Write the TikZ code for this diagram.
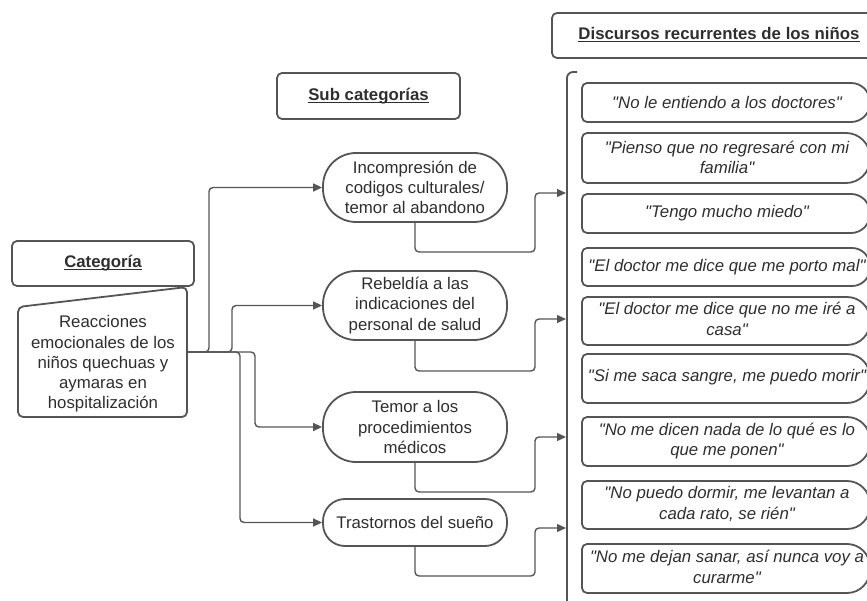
\documentclass[tikz,border=0pt]{standalone}
\usepackage{fontspec}
\setmainfont{Liberation Sans}[Ligatures=TeXOff]
\usetikzlibrary{arrows.meta}
\definecolor{ln}{HTML}{555555}
\definecolor{tx}{HTML}{2e2e2e}
\newcommand\myul[1]{\setbox0\hbox{#1}\rlap{\rule[-2.6pt]{\wd0}{1.2pt}}\box0}
\newcommand\quotebox[3]{\draw[qline,rounded corners=5pt] (700,#1) -- (582,#1) -- (582,#2) -- (700,#2) [rounded corners=#3] -- (870,#2) -- (870,#1) -- cycle;}
\begin{document}
\begin{tikzpicture}[x=1pt,y=-1pt,
  txt/.style={text=tx,font=\fontsize{16.8}{20.3}\selectfont,align=center,inner sep=0pt},
  qtxt/.style={txt,font=\fontsize{16.8}{20.3}\selectfont\itshape},
  hdr/.style={draw=ln,line width=1.8pt,rounded corners=5pt,text=tx,font=\fontsize{16.8}{20}\selectfont\bfseries,inner sep=0pt},
  subcat/.style={draw=ln,line width=1.8pt,txt,minimum width=184pt},
  conn/.style={draw=ln,line width=1.4pt,rounded corners=4pt,-{Triangle[length=9pt,width=8pt]}},
  qline/.style={draw=ln,line width=1.8pt}]
\useasboundingbox (0,0) rectangle (867,601);
\clip (0,0) rectangle (867,601);
% category
\node[hdr,minimum width=182pt,minimum height=45pt] (cathdr) at (103,263.5) {\myul{Categoría}};
\draw[qline,rounded corners=5pt] (187,287) -- (18,307) -- (18,417) -- (187,417) -- cycle;
\node[txt] (body) at (103,364) {Reacciones\\emocionales de los\\niños quechuas y\\aymaras en\\hospitalización};
\coordinate (bodyE) at (187,352);
% sub categories
\node[hdr,minimum width=183pt,minimum height=46pt] (subhdr) at (368.5,96) {\myul{Sub categorías}};
\node[subcat,minimum height=69pt,rounded corners=33pt] (inc) at (415,187.5) {Incompresión de\\codigos culturales/\\temor al abandono};
\node[subcat,minimum height=69pt,rounded corners=33pt] (reb) at (415,305.5) {Rebeldía a las\\indicaciones del\\personal de salud};
\node[subcat,minimum height=70pt,rounded corners=33pt] (tem) at (415,427) {Temor a los\\procedimientos\\médicos};
\node[subcat,minimum height=47pt,rounded corners=22pt] (tra) at (415,522.5) {Trastornos del sueño};
\draw[conn] (bodyE) -- (209,352) -- (209,187.5) -- (inc.west);
\draw[conn] (bodyE) -- (232,352) -- (232,305.5) -- (reb.west);
\draw[conn] (bodyE) -- (240,352) -- (240,522.5) -- (tra.west);
\draw[conn] (bodyE) -- (255,352) -- (255,427) -- (tem.west);
% bracket
\coordinate (b1) at (566,193);
\coordinate (b2) at (566,319);
\coordinate (b3) at (566,437);
\coordinate (b4) at (566,528);
\draw[qline,rounded corners=6pt] (577,72) -- (567,72) -- (567,610);
\draw[conn] (inc.south) -- (415,252) -- (535,252) -- (535,193) -- (b1);
\draw[conn] (reb.south) -- (415,371) -- (535,371) -- (535,319) -- (b2);
\draw[conn] (tem.south) -- (415,492) -- (535,492) -- (535,437) -- (b3);
\draw[conn] (tra.south) -- (415,576) -- (535,576) -- (535,528) -- (b4);
% discursos header
\draw[qline,rounded corners=5pt] (900,13) -- (552,13) -- (552,58) -- (900,58);
\node[text=tx,font=\fontsize{16.8}{20}\selectfont\bfseries,inner sep=0pt] (dischdr) at (719,35) {\myul{Discursos recurrentes de los niños}};
% quotes
\quotebox{83}{122}{19pt}
\node[qtxt] (q1) at (727,102.5) {"No le entiendo a los doctores"};
\quotebox{133}{183}{24pt}
\node[qtxt] (q2) at (727,157.5) {"Pienso que no regresaré con mi\\familia"};
\quotebox{194}{233}{19pt}
\node[qtxt] (q3) at (727,213.5) {"Tengo mucho miedo"};
\quotebox{248}{286}{18pt}
\node[qtxt] (q4) at (727,267) {"El doctor me dice que me porto mal"};
\quotebox{297}{345}{23pt}
\node[qtxt] (q5) at (727,319) {"El doctor me dice que no me iré a\\casa"};
\quotebox{354}{403}{23pt}
\node[qtxt] (q6) at (727,377) {"Si me saca sangre, me puedo morir"};
\quotebox{417}{466}{23pt}
\node[qtxt] (q7) at (727,441) {"No me dicen nada de lo qué es lo\\que me ponen"};
\quotebox{481}{529}{23pt}
\node[qtxt] (q8) at (727,504) {"No puedo dormir, me levantan a\\cada rato, se rién"};
\quotebox{544}{593}{23pt}
\node[qtxt] (q9) at (727,567) {"No me dejan sanar, así nunca voy a\\curarme"};
\end{tikzpicture}
\end{document}
